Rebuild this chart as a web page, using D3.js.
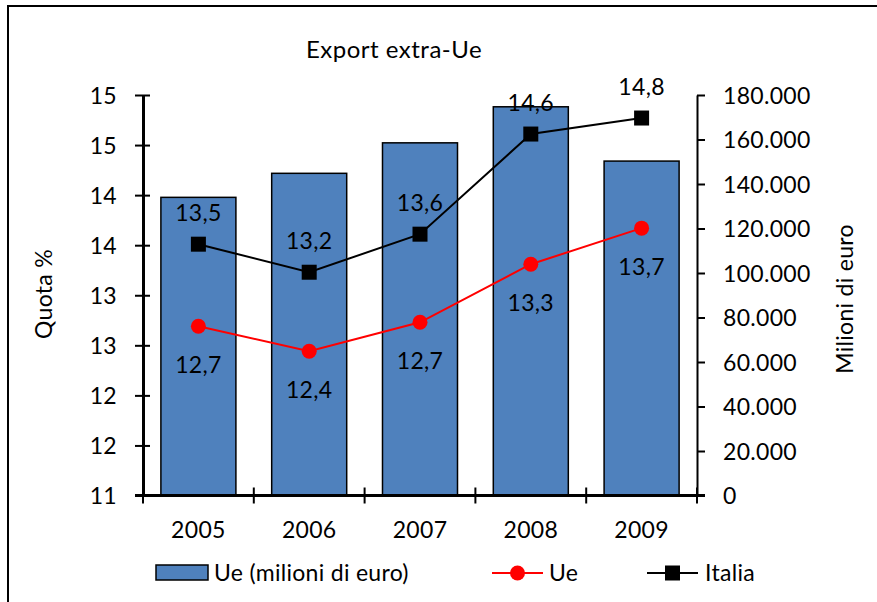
<!DOCTYPE html>
<html>
<head>
<meta charset="utf-8">
<script src="https://cdn.jsdelivr.net/npm/d3@7"></script>
<style>
  html, body { margin: 0; padding: 0; background: #fff; }
  svg text { font-family: Lato, "Open Sans", sans-serif; fill: #000; letter-spacing: 0.3px; }
</style>
</head>
<body>
<svg id="chart" width="877" height="602"></svg>
<script>
// Export extra-Ue: value in million euro (bars, right axis) and share % (lines, left axis)
const years = ["2005", "2006", "2007", "2008", "2009"];
const ueMillions = [134000, 144800, 158500, 174700, 150300];
const ueShare = [12.69, 12.44, 12.73, 13.31, 13.67];
const italiaShare = [13.51, 13.23, 13.61, 14.61, 14.77];
const leftTicks = [11, 11.5, 12, 12.5, 13, 13.5, 14, 14.5, 15];
const rightTicks = [0, 20000, 40000, 60000, 80000, 100000, 120000, 140000, 160000, 180000];

const itLocale = d3.formatLocale({ decimal: ",", thousands: ".", grouping: [3], currency: ["€", ""] });
const fmtThousands = itLocale.format(",.0f");
const fmtOneDec = itLocale.format(".1f");
const fmtLeft = d3.format(".0f");

const FS = 23;
const svg = d3.select("#chart");
const plot = { left: 143, right: 697, top: 95, bottom: 495.5 };

const x = d3.scaleBand().domain(years).range([plot.left, plot.right])
  .paddingInner(0.323).paddingOuter(0.1615);
const yLeft = d3.scaleLinear().domain([11, 15]).range([plot.bottom, plot.top]);
const yRight = d3.scaleLinear().domain([0, 180000]).range([plot.bottom, plot.top]);
const cx = d => x(d) + x.bandwidth() / 2;

// outer frame
svg.append("path")
  .attr("d", "M8,602 L8,6 L877,6")
  .attr("fill", "none").attr("stroke", "#000").attr("stroke-width", 2);

// title
svg.append("text")
  .attr("x", 394).attr("y", 58)
  .attr("text-anchor", "middle")
  .attr("font-size", 24)
  .style("letter-spacing", "0.5px")
  .text("Export extra-Ue");

// bars
svg.append("g").selectAll("rect")
  .data(years)
  .join("rect")
  .attr("x", d => x(d))
  .attr("width", x.bandwidth())
  .attr("y", (d, i) => yRight(ueMillions[i]))
  .attr("height", (d, i) => plot.bottom - yRight(ueMillions[i]))
  .attr("fill", "#4F81BD")
  .attr("stroke", "#000")
  .attr("stroke-width", 1.5);

// left axis
const gLeft = svg.append("g").attr("transform", `translate(${plot.left},0)`)
  .call(d3.axisLeft(yLeft).tickValues(leftTicks).tickFormat(fmtLeft)
    .tickSizeInner(8).tickSizeOuter(0).tickPadding(18));
gLeft.select(".domain").attr("stroke-width", 3);
gLeft.selectAll(".tick line").attr("x2", 7).attr("x1", -8).attr("stroke-width", 2);
gLeft.selectAll(".tick text").attr("font-size", FS).attr("font-family", null).attr("dy", "0.35em");

// right axis
const gRight = svg.append("g").attr("transform", `translate(${plot.right},0)`)
  .call(d3.axisRight(yRight).tickValues(rightTicks).tickFormat(fmtThousands)
    .tickSizeInner(8).tickSizeOuter(0).tickPadding(18));
gRight.select(".domain").attr("stroke-width", 2);
gRight.selectAll(".tick line").attr("stroke-width", 2);
gRight.selectAll(".tick text").attr("font-size", FS).attr("font-family", null).attr("dy", "0.35em");
svg.selectAll(".tick text").style("font-family", "Lato");

// category axis with boundary ticks
const gX = svg.append("g").attr("transform", `translate(0,${plot.bottom})`);
gX.append("line")
  .attr("x1", plot.left - 8).attr("x2", plot.right + 8)
  .attr("stroke", "#000").attr("stroke-width", 3);
const bounds = d3.range(years.length + 1).map(i => plot.left + i * x.step());
gX.selectAll(".bt").data(bounds).join("line")
  .attr("x1", d => d).attr("x2", d => d)
  .attr("y1", -8).attr("y2", 8)
  .attr("stroke", "#000").attr("stroke-width", 2);
gX.selectAll(".yl").data(years).join("text")
  .attr("x", d => cx(d)).attr("y", 42)
  .attr("text-anchor", "middle")
  .attr("font-size", FS)
  .text(d => d);

// axis titles
svg.append("text")
  .attr("transform", "translate(52,294) rotate(-90)")
  .attr("text-anchor", "middle").attr("font-size", FS)
  .text("Quota %");
svg.append("text")
  .attr("transform", "translate(853,299) rotate(-90)")
  .attr("text-anchor", "middle").attr("font-size", FS)
  .text("Milioni di euro");

// lines
const lineFor = vals => d3.line().x((d, i) => cx(years[i])).y(d => yLeft(d))(vals);

svg.append("path").attr("d", lineFor(italiaShare))
  .attr("fill", "none").attr("stroke", "#000").attr("stroke-width", 2);
svg.append("path").attr("d", lineFor(ueShare))
  .attr("fill", "none").attr("stroke", "#FF0000").attr("stroke-width", 2);

const sq = 15;
svg.append("g").selectAll("rect").data(italiaShare).join("rect")
  .attr("x", (d, i) => cx(years[i]) - sq / 2)
  .attr("y", d => yLeft(d) - sq / 2)
  .attr("width", sq).attr("height", sq)
  .attr("fill", "#000");
svg.append("g").selectAll("circle").data(ueShare).join("circle")
  .attr("cx", (d, i) => cx(years[i]))
  .attr("cy", d => yLeft(d))
  .attr("r", 7.5)
  .attr("fill", "#FF0000");

// data labels
svg.append("g").selectAll("text").data(italiaShare).join("text")
  .attr("x", (d, i) => cx(years[i]))
  .attr("y", d => yLeft(d) - 31)
  .attr("dy", "0.35em")
  .attr("text-anchor", "middle").attr("font-size", FS)
  .text(d => fmtOneDec(d));
svg.append("g").selectAll("text").data(ueShare).join("text")
  .attr("x", (d, i) => cx(years[i]))
  .attr("y", d => yLeft(d) + 38.5)
  .attr("dy", "0.35em")
  .attr("text-anchor", "middle").attr("font-size", FS)
  .text(d => fmtOneDec(d));

// legend
const lg = svg.append("g");
lg.append("rect").attr("x", 156).attr("y", 565).attr("width", 52).attr("height", 15)
  .attr("fill", "#4F81BD").attr("stroke", "#000").attr("stroke-width", 1.5);
lg.append("text").attr("x", 214).attr("y", 573).attr("dy", "0.35em").attr("font-size", FS)
  .text("Ue (milioni di euro)");

lg.append("line").attr("x1", 492).attr("x2", 543).attr("y1", 573).attr("y2", 573)
  .attr("stroke", "#FF0000").attr("stroke-width", 2);
lg.append("circle").attr("cx", 517.5).attr("cy", 573).attr("r", 7.5).attr("fill", "#FF0000");
lg.append("text").attr("x", 549).attr("y", 573).attr("dy", "0.35em").attr("font-size", FS)
  .text("Ue");

lg.append("line").attr("x1", 647).attr("x2", 698).attr("y1", 573).attr("y2", 573)
  .attr("stroke", "#000").attr("stroke-width", 2);
lg.append("rect").attr("x", 672.5 - sq / 2).attr("y", 573 - sq / 2).attr("width", sq).attr("height", sq)
  .attr("fill", "#000");
lg.append("text").attr("x", 705).attr("y", 573).attr("dy", "0.35em").attr("font-size", FS)
  .text("Italia");
</script>
</body>
</html>
